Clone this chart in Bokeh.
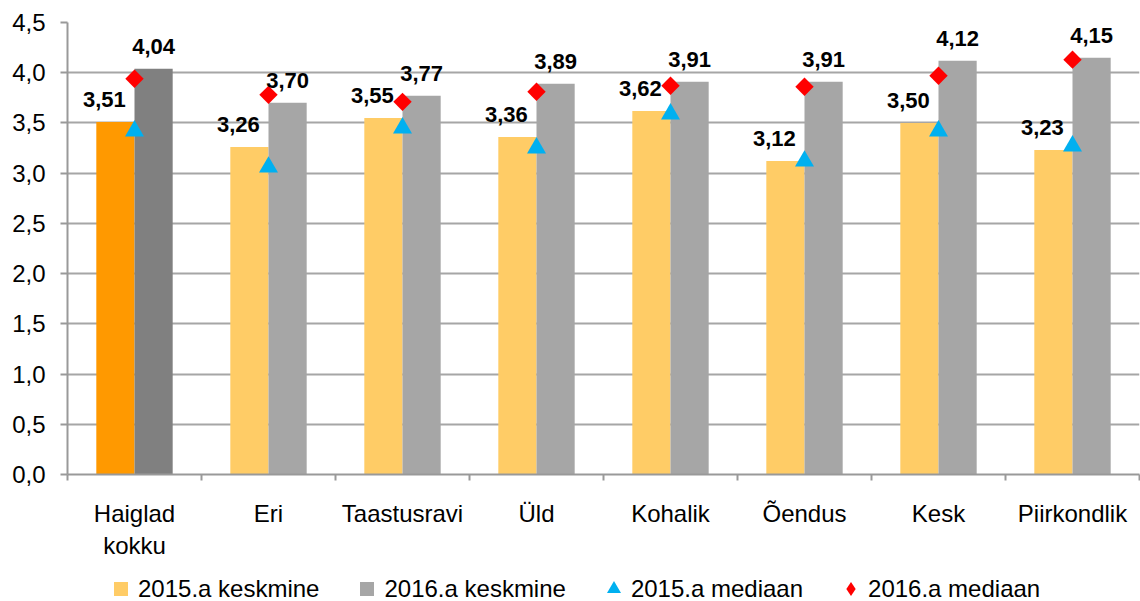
import numpy as np
from bokeh.plotting import figure
from bokeh.layouts import column
from bokeh.models import (ColumnDataSource, Range1d, FixedTicker, CustomJSTickFormatter,
                          LabelSet, Legend, LegendItem)
from bokeh.embed import file_html
from bokeh.resources import INLINE
from bokeh.core.properties import value

# ---- data ----
categories = ["Haiglad\nkokku", "Eri", "Taastusravi", "Üld", "Kohalik", "Õendus", "Kesk", "Piirkondlik"]
mean_2015 = [3.51, 3.26, 3.55, 3.36, 3.62, 3.12, 3.50, 3.23]
mean_2016 = [4.04, 3.70, 3.77, 3.89, 3.91, 3.91, 4.12, 4.15]
median_2015 = [3.42, 3.06, 3.45, 3.25, 3.59, 3.12, 3.42, 3.27]
median_2016 = [3.94, 3.78, 3.71, 3.81, 3.87, 3.86, 3.97, 4.13]
y_ticks = [0.0, 0.5, 1.0, 1.5, 2.0, 2.5, 3.0, 3.5, 4.0, 4.5]
series_names = ["2015.a keskmine", "2016.a keskmine", "2015.a mediaan", "2016.a mediaan"]

colors_2015 = ["#FF9900"] + ["#FFCC66"] * (len(categories) - 1)
colors_2016 = ["#808080"] + ["#A6A6A6"] * (len(categories) - 1)
C15, C16, CMED15, CMED16 = "#FFCC66", "#A6A6A6", "#00B0F0", "#FF0000"

FONT = "Liberation Sans"
n = len(categories)
xc = np.arange(n) + 0.5
bar_w = 0.285
off = bar_w / 2

def fmt(v):
    return f"{v:.2f}".replace(".", ",")

src = ColumnDataSource(dict(
    x=xc, x15=xc - off, x16=xc + off,
    m15=mean_2015, m16=mean_2016,
    med15=median_2015, med16=median_2016,
    c15=colors_2015, c16=colors_2016,
    l15=[fmt(v) for v in mean_2015], l16=[fmt(v) for v in mean_2016],
))

p = figure(width=1140, height=561, x_range=Range1d(0, n), y_range=Range1d(0, 4.5),
           output_backend="svg", toolbar_location=None,
           min_border_left=67, min_border_right=1, min_border_top=22, min_border_bottom=83)
p.outline_line_color = None
p.background_fill_color = "white"

p.vbar(x="x15", top="m15", bottom=0, width=bar_w, fill_color="c15", line_color=None, source=src)
p.vbar(x="x16", top="m16", bottom=0, width=bar_w, fill_color="c16", line_color=None, source=src)
p.scatter(x="x", y="med15", marker="triangle", size=19, fill_color=CMED15, line_color=None, source=src)
p.scatter(x="x", y="med16", marker="square", angle=np.pi / 4, size=13, fill_color=CMED16,
          line_color=None, source=src)

common = dict(source=src, text_align="center", text_baseline="alphabetic",
              text_font=value(FONT), text_font_style="bold", text_font_size="22px",
              text_color="black", y_offset=15)
p.add_layout(LabelSet(x="x15", y="m15", text="l15", x_offset=-11, **common))
p.add_layout(LabelSet(x="x16", y="m16", text="l16", x_offset=0, **common))

# axes
axis_col = "#999999"
xa = p.xaxis[0]
xa.ticker = FixedTicker(ticks=list(xc), minor_ticks=list(range(n + 1)))
xa.major_label_overrides = {float(v): c for v, c in zip(xc, categories)}
xa.major_tick_out = 0
xa.major_tick_in = 0
xa.minor_tick_out = 6
xa.minor_tick_in = 0
xa.minor_tick_line_color = axis_col
xa.minor_tick_line_width = 2
xa.axis_line_color = axis_col
xa.axis_line_width = 2
xa.major_label_standoff = 19
xa.major_label_text_font = FONT
xa.major_label_text_font_size = "24px"
xa.major_label_text_color = "black"

ya = p.yaxis[0]
ya.ticker = FixedTicker(ticks=y_ticks)
ya.formatter = CustomJSTickFormatter(code="return tick.toFixed(1).replace('.', ',');")
ya.major_tick_out = 7
ya.major_tick_in = 0
ya.major_tick_line_color = axis_col
ya.major_tick_line_width = 2
ya.minor_tick_line_color = None
ya.axis_line_color = axis_col
ya.axis_line_width = 2
ya.major_label_standoff = 15
ya.major_label_text_font = FONT
ya.major_label_text_font_size = "24px"
ya.major_label_text_color = "black"

p.xgrid.visible = False
p.ygrid.grid_line_color = "#A6A6A6"
p.ygrid.grid_line_width = 2

# ---- legend strip (separate figure; its y-range hides the series points) ----
lf = figure(width=1140, height=40, x_range=Range1d(0, n), y_range=Range1d(-1, 0),
            output_backend="svg", toolbar_location=None,
            x_axis_location=None, y_axis_location=None, min_border=0)
lf.outline_line_color = None
lf.grid.visible = False
r1 = lf.scatter(x="x15", y="m15", marker="square", fill_color=C15, line_color=None, source=src)
r2 = lf.scatter(x="x16", y="m16", marker="square", fill_color=C16, line_color=None, source=src)
r3 = lf.scatter(x="x", y="med15", marker="triangle", fill_color=CMED15, line_color=None, source=src)
r4 = lf.scatter(x="x", y="med16", marker="diamond", fill_color=CMED16, line_color=None, source=src)
legend = Legend(items=[LegendItem(label=series_names[0], renderers=[r1]),
                       LegendItem(label=series_names[1], renderers=[r2]),
                       LegendItem(label=series_names[2], renderers=[r3]),
                       LegendItem(label=series_names[3], renderers=[r4])],
                location=(36, -5), orientation="horizontal",
                glyph_width=35, glyph_height=35, label_standoff=0, spacing=30,
                padding=0, margin=0, border_line_alpha=0, background_fill_alpha=0,
                label_text_font=FONT, label_text_font_size="24px", label_text_color="black")
lf.add_layout(legend)

layout = column(p, lf, spacing=0)
open("out.html", "w").write(file_html(layout, INLINE))
